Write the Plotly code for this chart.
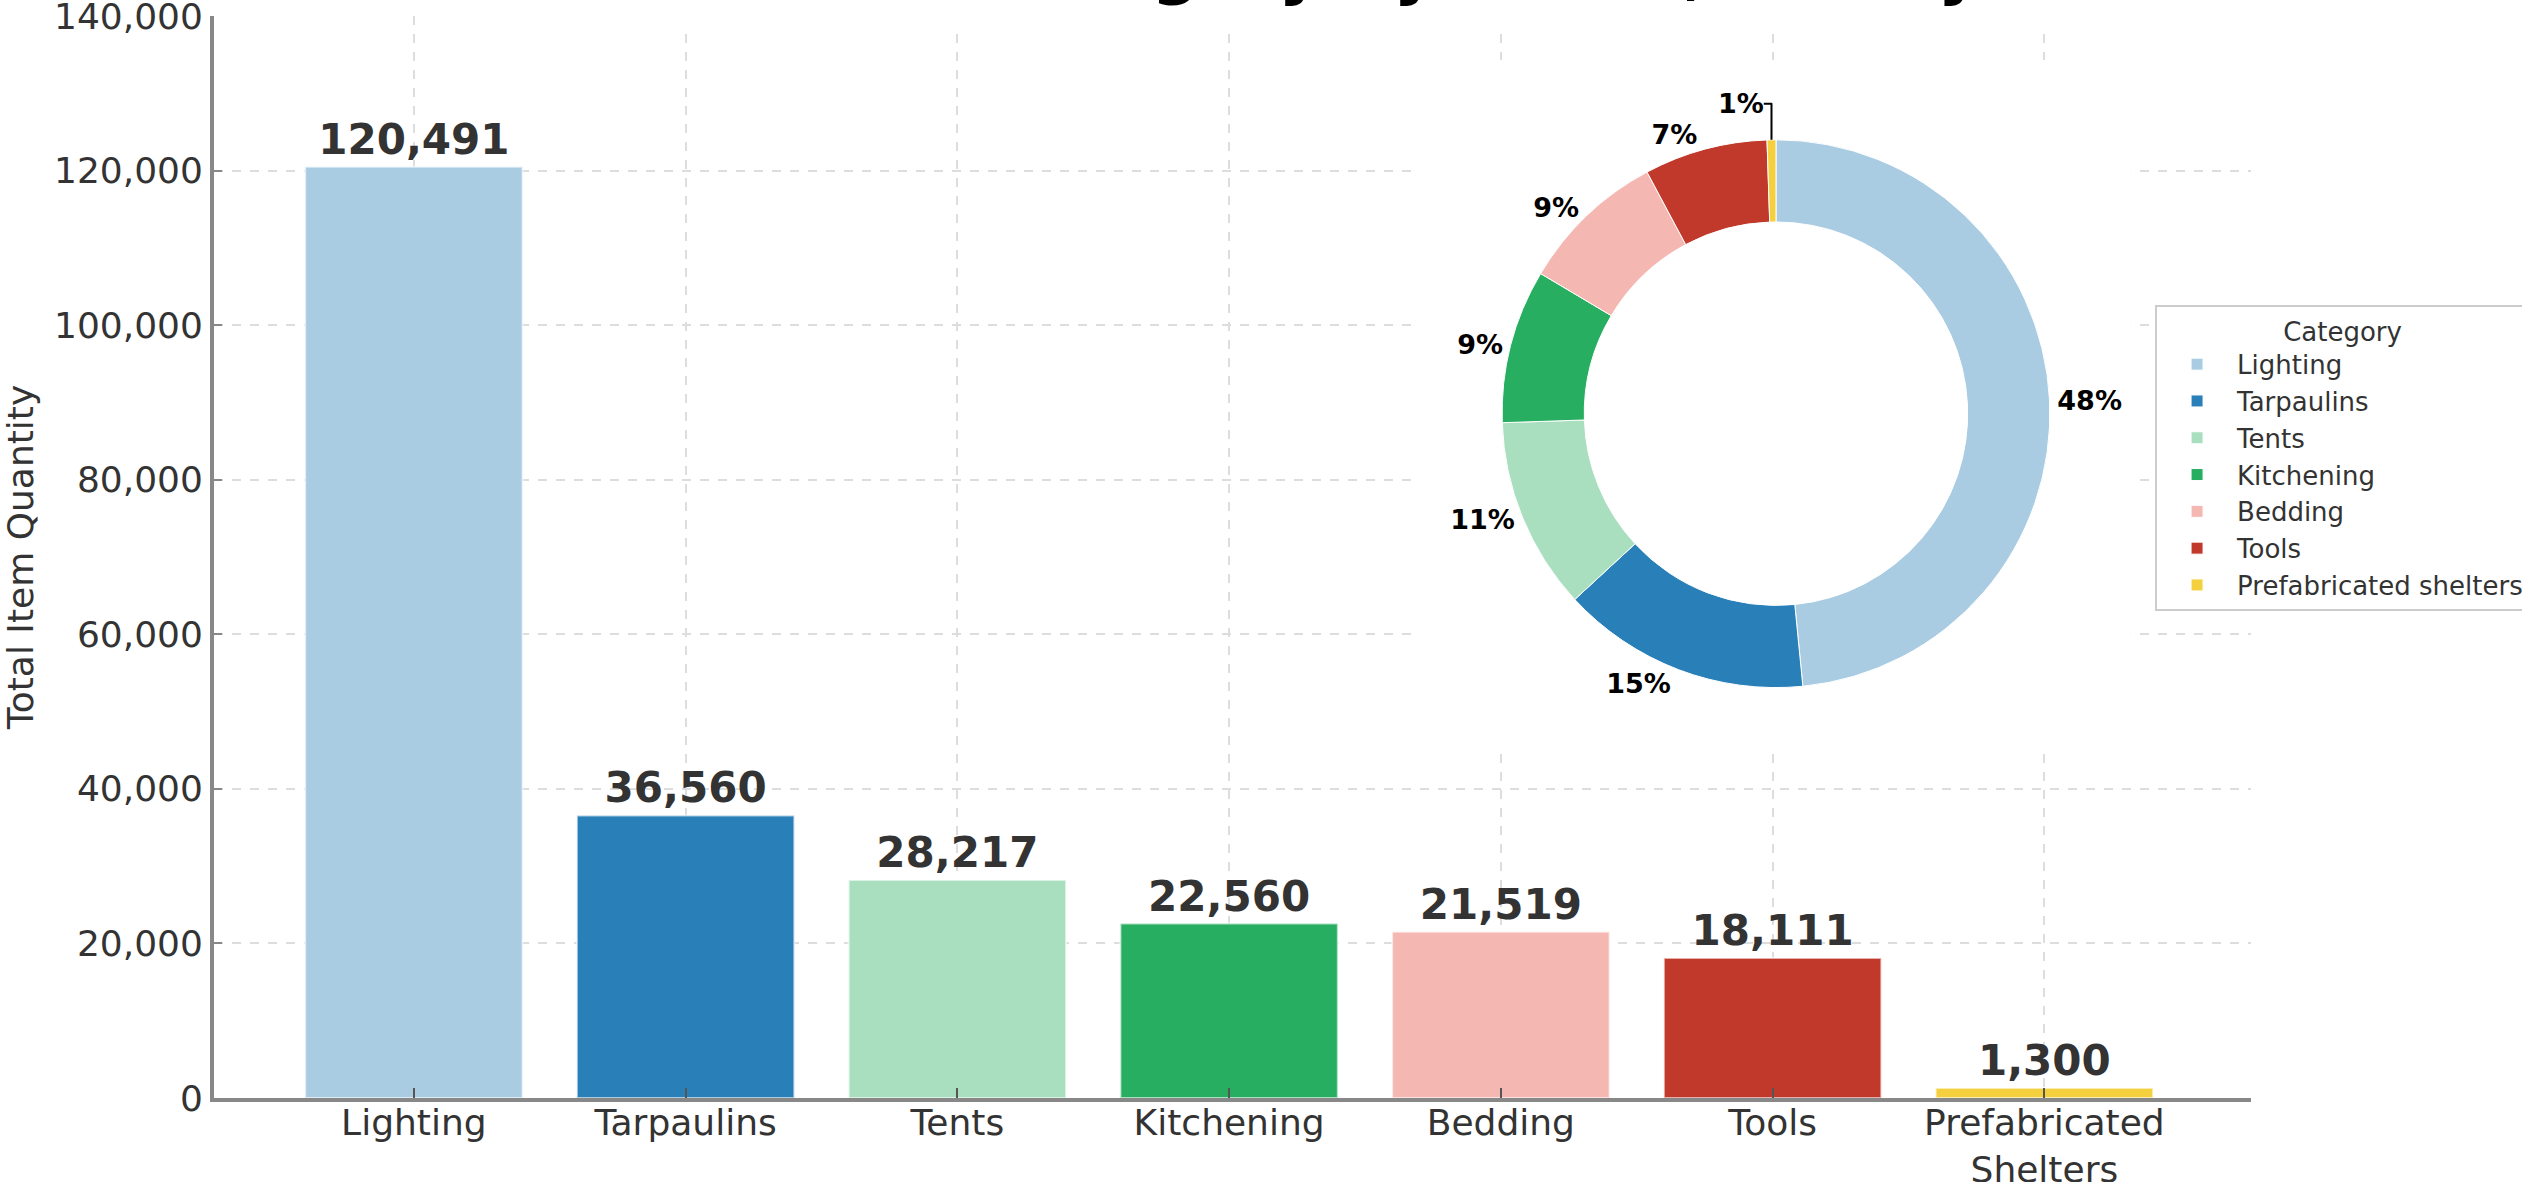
import plotly.graph_objects as go

# data
categories = ["Lighting", "Tarpaulins", "Tents", "Kitchening", "Bedding", "Tools",
              "Prefabricated<br>Shelters"]
pie_labels = ["Lighting", "Tarpaulins", "Tents", "Kitchening", "Bedding", "Tools",
              "Prefabricated shelters"]
quantities = [120491, 36560, 28217, 22560, 21519, 18111, 1300]
colors = ["#a9cce3", "#2980b9", "#a9dfbf", "#27ae60", "#f5b7b1", "#c0392b", "#f4d03f"]
y_ticks = [0, 20000, 40000, 60000, 80000, 100000, 120000, 140000]
title_text = "Total Items Per Category by Count, Hourly"

FONT = "DejaVu Sans"
TEXT = "#333333"
GRID = "#dddddd"

fig = go.Figure()

fig.add_trace(go.Bar(
    x=categories,
    y=quantities,
    marker=dict(color=colors, line=dict(color="rgba(255,255,255,0.6)", width=2)),
    width=0.8,
    texttemplate="<b>%{y:,}</b>",
    textposition="outside",
    textfont=dict(family=FONT, size=42, color=TEXT),
    constraintext="none",
    cliponaxis=False,
    showlegend=False,
    hoverinfo="skip",
))

fig.add_trace(go.Pie(
    labels=pie_labels,
    values=quantities,
    marker=dict(colors=colors, line=dict(color="white", width=1)),
    hole=0.7,
    sort=False,
    direction="clockwise",
    rotation=0,
    textposition="outside",
    texttemplate="<b>%{percent:.0%}</b>",
    textfont=dict(family=FONT, size=27, color="black"),
    domain=dict(x=[0.5956, 0.8128], y=[0.40, 0.90]),
    showlegend=True,
))

# white inset background hides the grid behind the donut
fig.add_shape(type="rect", xref="x", yref="y",
              x0=3.684, x1=6.318, y0=45300, y1=134300,
              fillcolor="white", line=dict(width=0), layer="between")
# title box hides the grid along the top edge
fig.add_shape(type="rect", xref="x", yref="y",
              x0=0.005, x1=6.517, y0=138200, y1=141000,
              fillcolor="white", line=dict(width=0), layer="between")

# title sits mostly above the visible page, as in the cropped original
fig.add_annotation(text=f"<b>{title_text}</b>", xref="paper", yref="paper",
                   x=0.1527, y=1.0268, xanchor="left", yanchor="middle",
                   showarrow=False, font=dict(family=FONT, size=67, color="black"))

fig.update_layout(
    width=2522,
    height=1182,
    margin=dict(l=0, r=0, t=0, b=0, autoexpand=False),
    paper_bgcolor="white",
    plot_bgcolor="white",
    font=dict(family=FONT, color=TEXT),
    xaxis=dict(
        domain=[0.0849, 0.8925],
        range=[-0.735, 6.76],
        automargin=False,
        showline=True, linecolor="#888888", linewidth=4,
        ticks="inside", ticklen=10, tickwidth=2, tickcolor="#555555",
        showgrid=True, gridcolor=GRID, griddash="dash", gridwidth=1.5,
        tickfont=dict(family=FONT, size=36, color=TEXT),
        ticklabeloverflow="allow",
        ticklabelstandoff=-10,
    ),
    yaxis=dict(
        domain=[0.0711, 0.9865],
        range=[0, 140000],
        automargin=False,
        tickvals=y_ticks,
        tickformat=",",
        showline=True, linecolor="#888888", linewidth=4,
        ticks="inside", ticklen=8, tickwidth=2, tickcolor="#888888",
        showgrid=True, gridcolor=GRID, griddash="dash", gridwidth=1.5,
        zeroline=False,
        tickfont=dict(family=FONT, size=36, color=TEXT),
        ticklabeloverflow="allow",
        title=dict(text="Total Item Quantity", font=dict(family=FONT, size=36, color=TEXT),
                   standoff=16),
    ),
    legend=dict(
        x=0.8545, y=0.742, xanchor="left", yanchor="top",
        bgcolor="white", bordercolor="#cccccc", borderwidth=2,
        itemwidth=70,
        font=dict(family=FONT, size=26, color=TEXT),
        title=dict(text="Category", side="top center",
                   font=dict(family=FONT, size=26, color=TEXT)),
    ),
)

fig.write_html("out.html", config={"displayModeBar": False},
               post_script="document.body.style.margin='0';")
